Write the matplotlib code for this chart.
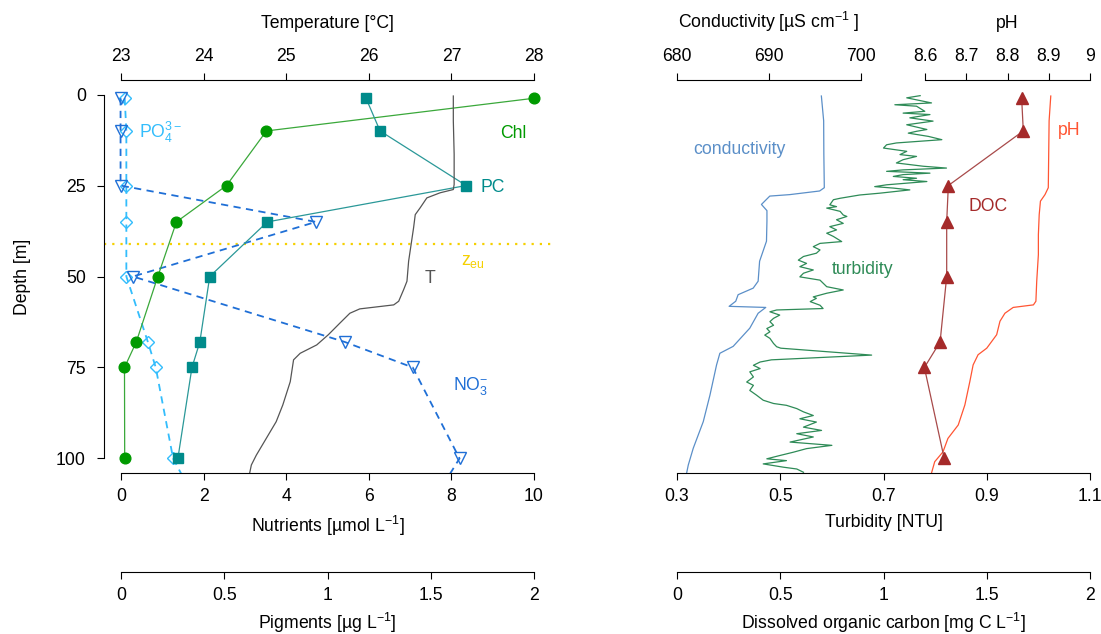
import matplotlib
matplotlib.use("Agg")
import matplotlib.pyplot as plt

plt.rcParams["font.family"] = ["Liberation Sans", "DejaVu Sans"]
plt.rcParams["font.size"] = 12.7
plt.rcParams["mathtext.fontset"] = "custom"
plt.rcParams["mathtext.rm"] = "Liberation Sans"
plt.rcParams["mathtext.it"] = "Liberation Sans:italic"

# discrete samples
sample_depth = [1, 10, 25, 35, 50, 68, 75, 100]
chl = [2.0, 0.705, 0.512, 0.27, 0.18, 0.076, 0.019, 0.02]          # ug/L
pc = [1.186, 1.254, 1.67, 0.709, 0.431, 0.383, 0.345, 0.277]       # ug/L
doc = [1.669, 1.677, 1.314, 1.306, 1.306, 1.274, 1.198, 1.294]    # mg C/L

nut_depth = [1, 10, 25, 35, 50, 68, 75, 100, 120]
po4 = [0.1, 0.14, 0.14, 0.14, 0.14, 0.66, 0.85, 1.27, 2.2]         # umol/L
no3 = [0.0, 0.0, 0.0, 4.72, 0.3, 5.42, 7.06, 8.19, 7.1]            # umol/L

zeu = 41

# CTD profiles
temp_depth = [0.4, 7.2, 16.4, 24.7, 26.1, 27.0, 28.4, 31.1, 33.0, 36.6, 41.2, 45.8, 51.3, 53.6,
              56.8, 57.8, 58.9, 60.1, 62.8, 66.0, 68.8, 71.1, 72.9, 78.9, 85.3, 89.9, 94.5, 99.1,
              101.8, 104.0]
temp = [27.02, 27.02, 27.03, 27.03, 27.02, 26.86, 26.70, 26.62, 26.56, 26.54, 26.51, 26.48, 26.46,
        26.42, 26.36, 26.30, 25.89, 25.77, 25.65, 25.51, 25.37, 25.17, 25.09, 25.05, 24.96, 24.88,
        24.76, 24.64, 24.58, 24.56]

cond_depth = [0.4, 7.2, 16.4, 25.6, 26.5, 27.5, 27.9, 30.2, 31.9, 34.8, 40.3, 45.8, 51.3, 53.2,
              55.0, 56.8, 58.2, 58.5, 60.1, 64.2, 69.2, 71.1, 74.3, 82.6, 89.9, 97.2, 101.8, 104.0]
cond = [695.73, 695.98, 696.00, 696.05, 695.54, 692.28, 690.11, 689.20, 689.80, 689.80, 689.75,
        689.00, 688.84, 688.30, 686.66, 686.40, 685.68, 689.67, 688.84, 687.93, 686.12, 684.67,
        684.31, 683.59, 682.86, 681.77, 681.23, 681.05]

turb_depth = [0.3, 0.9, 2.3, 2.8, 3.2, 4.6, 5.1, 5.5, 6.4, 7.3, 8.3, 9.6, 10.1, 10.6, 11.5, 12.4,
              12.9, 13.3, 13.8, 14.7, 15.2, 15.6, 16.5, 17.0, 17.9, 18.8, 19.7, 20.2, 20.7, 21.1,
              21.6, 22.0, 22.5, 23.0, 23.4, 23.9, 24.8, 25.3, 25.7, 26.2, 27.1, 27.6, 28.5, 28.9,
              30.3, 30.8, 31.2, 32.1, 33.1, 33.5, 34.4, 35.4, 36.3, 37.2, 38.1, 39.0, 40.4, 40.9,
              41.8, 42.7, 43.6, 44.5, 45.5, 46.4, 47.3, 48.2, 49.1, 50.1, 51.0, 52.8, 53.7, 54.6,
              55.6, 56.0, 56.9, 57.9, 58.8, 59.2, 59.7, 60.6, 61.5, 62.4, 63.4, 64.3, 65.2, 66.1,
              67.0, 68.4, 69.3, 69.7, 71.6, 72.9, 73.5, 74.4, 75.3, 76.2, 77.6, 79.0, 79.9, 81.3,
              82.6, 84.0, 84.9, 85.4, 86.3, 87.2, 88.2, 89.1, 90.0, 91.4, 92.3, 93.2, 94.1, 95.5,
              96.4, 97.3, 98.3, 99.2, 100.1, 100.6, 101.5, 102.4, 102.9, 103.8]
turb = [0.771, 0.745, 0.793, 0.722, 0.764, 0.780, 0.738, 0.790, 0.751, 0.796, 0.745, 0.784, 0.764,
        0.748, 0.787, 0.813, 0.764, 0.725, 0.706, 0.700, 0.725, 0.745, 0.732, 0.764, 0.738, 0.725,
        0.777, 0.822, 0.738, 0.706, 0.790, 0.738, 0.719, 0.764, 0.738, 0.784, 0.706, 0.683, 0.719,
        0.751, 0.693, 0.654, 0.616, 0.603, 0.596, 0.609, 0.590, 0.616, 0.622, 0.629, 0.609, 0.622,
        0.596, 0.609, 0.590, 0.603, 0.619, 0.577, 0.564, 0.577, 0.570, 0.545, 0.535, 0.551, 0.538,
        0.564, 0.545, 0.538, 0.577, 0.590, 0.622, 0.590, 0.564, 0.570, 0.558, 0.577, 0.583, 0.493,
        0.480, 0.499, 0.487, 0.480, 0.487, 0.474, 0.480, 0.470, 0.480, 0.487, 0.493, 0.501, 0.677,
        0.483, 0.461, 0.448, 0.461, 0.441, 0.448, 0.435, 0.448, 0.441, 0.454, 0.467, 0.487, 0.512,
        0.532, 0.545, 0.564, 0.538, 0.570, 0.545, 0.580, 0.532, 0.564, 0.519, 0.600, 0.551, 0.525,
        0.499, 0.474, 0.512, 0.467, 0.506, 0.532, 0.545]

ph_depth = [0.4, 7.2, 16.4, 25.6, 27.5, 29.3, 33.0, 38.5, 44.0, 51.3, 56.8, 57.8, 58.5, 60.1, 62.3,
            66.0, 69.7, 71.5, 74.3, 78.9, 85.3, 90.8, 94.5, 98.2, 100.9, 104.1]
ph = [8.905, 8.901, 8.900, 8.899, 8.891, 8.880, 8.877, 8.875, 8.875, 8.871, 8.869, 8.863, 8.814,
      8.794, 8.782, 8.774, 8.750, 8.729, 8.717, 8.709, 8.697, 8.681, 8.656, 8.644, 8.624, 8.616]

depth_ticks = [0, 25, 50, 75, 100]
nut_ticks = [0, 2, 4, 6, 8, 10]
temp_ticks = [23, 24, 25, 26, 27, 28]
pig_ticks = [0, 0.5, 1, 1.5, 2]
pig_labels = ["0", "0.5", "1", "1.5", "2"]
turb_ticks = [0.3, 0.5, 0.7, 0.9, 1.1]
cond_ticks = [680, 690, 700]
ph_ticks = [8.6, 8.7, 8.8, 8.9, 9.0]
ph_labels = ["8.6", "8.7", "8.8", "8.9", "9"]

c_chl, c_chl_line = "#009a00", "#3aa83a"
c_pc, c_pc_line = "#008b8b", "#2a9898"
c_po4 = "#33bdfc"
c_no3 = "#1f6fd6"
c_temp = "#555555"
c_zeu = "#f5d000"
c_cond = "#5b8fc8"
c_turb = "#2e8b57"
c_doc, c_doc_line = "#a52a2a", "#a84a4a"
c_ph = "#ff5533"

W, H = 1101, 634
fig = plt.figure(figsize=(W / 100, H / 100), dpi=100)


def frac(x0, x1, ytop, ybot):
    return [x0 / W, 1 - ybot / H, (x1 - x0) / W, (ybot - ytop) / H]


def axis_only(x0, x1, y, side, lim, ticks, labels, label, pad):
    h = 0.001
    if side == "bottom":
        r = [x0 / W, 1 - y / H, (x1 - x0) / W, h]
    else:
        r = [x0 / W, 1 - y / H - h, (x1 - x0) / W, h]
    a = fig.add_axes(r)
    a.patch.set_visible(False)
    for s in a.spines.values():
        s.set_visible(False)
    a.spines[side].set_visible(True)
    a.spines[side].set_linewidth(0.8)
    a.set_xlim(lim)
    a.set_yticks([])
    a.xaxis.set_ticks_position(side)
    a.xaxis.set_label_position(side)
    a.set_xticks(ticks, labels)
    a.tick_params(axis="x", direction="out", length=5, width=0.8, pad=6)
    a.set_xlabel(label, labelpad=pad)
    return a


# ---- left panel ----
ax1 = fig.add_axes(frac(104, 551, 80, 473))
ax1.patch.set_visible(False)
ax1.set_xlim(-0.4, 10.4)
ax1.set_ylim(104, -4)
for s in ["top", "right", "bottom"]:
    ax1.spines[s].set_visible(False)
ax1.spines["left"].set_bounds(0, 100)
ax1.spines["left"].set_linewidth(0.8)
ax1.set_xticks([])
ax1.set_yticks(depth_ticks, [str(d) for d in depth_ticks])
ax1.tick_params(axis="y", direction="out", length=5, width=0.8, pad=8)
ax1.set_ylabel("Depth [m]", labelpad=18)

ax_pig = ax1.twiny()
ax_pig.set_xlim(-0.08, 2.08)
ax_pig.axis("off")
ax_tmp = ax1.twiny()
ax_tmp.set_xlim(22.8, 28.2)
ax_tmp.axis("off")

ax_tmp.plot(temp, temp_depth, color=c_temp, lw=0.9)
ax1.axhline(zeu, color=c_zeu, lw=1.6, ls=(0, (1, 2.7)))
ax1.plot(po4, nut_depth, color=c_po4, lw=1.3, ls=(0, (4, 3)), marker="D", ms=6.5,
         mfc="none", mec=c_po4, mew=1.0)
ax1.plot(no3, nut_depth, color=c_no3, lw=1.3, ls=(0, (4, 3)), marker="v", ms=8.5,
         mfc="none", mec=c_no3, mew=1.0)
ax_pig.plot(chl, sample_depth, color=c_chl_line, lw=0.9, marker="o", ms=7.7,
            mfc=c_chl, mec=c_chl)
ax_pig.plot(pc, sample_depth, color=c_pc_line, lw=0.9, marker="s", ms=7,
            mfc=c_pc, mec=c_pc)

ax1.text(9.18, 11.9, "Chl", color=c_chl, va="baseline")
ax1.text(8.69, 26.9, "PC", color=c_pc, va="baseline")
ax1.text(0.44, 11.9, r"PO$\mathregular{_4^{3-}}$", color=c_po4, va="baseline")
ax1.text(8.04, 81.3, r"NO$\mathregular{_3^{-}}$", color=c_no3, va="baseline")
ax1.text(8.23, 46.8, r"z$\mathregular{_{eu}}$", color=c_zeu, va="baseline")
ax1.text(7.48, 51.8, "T", color=c_temp, va="baseline", ha="center")

axis_only(121, 534, 473, "bottom", (0, 10), nut_ticks, [str(t) for t in nut_ticks],
          r"Nutrients [µmol L$\mathregular{^{-1}}$]", 6.5)
axis_only(121, 534, 80, "top", (23, 28), temp_ticks, [str(t) for t in temp_ticks],
          "Temperature [°C]", 14)
axis_only(121, 534, 572, "bottom", (0, 2), pig_ticks, pig_labels,
          r"Pigments [µg L$\mathregular{^{-1}}$]", 5)

# ---- right panel ----
ax2 = fig.add_axes(frac(677, 1090, 80, 473))
ax2.set_xlim(0.3, 1.1)
ax2.set_ylim(104, -4)
ax2.axis("off")
ax_cond = ax2.twiny()
ax_cond.set_xlim(680, 725)
ax_cond.axis("off")
ax_ph = ax2.twiny()
ax_ph.set_xlim(8.0, 9.0)
ax_ph.axis("off")
ax_doc = ax2.twiny()
ax_doc.set_xlim(0, 2)
ax_doc.axis("off")

ax_cond.plot(cond, cond_depth, color=c_cond, lw=0.9)
ax2.plot(turb, turb_depth, color=c_turb, lw=0.9)
ax_ph.plot(ph, ph_depth, color=c_ph, lw=0.9)
ax_doc.plot(doc, sample_depth, color=c_doc_line, lw=0.9, marker="^", ms=9,
            mfc=c_doc, mec=c_doc)

ax2.text(0.331, 16.3, "conductivity", color=c_cond, va="baseline")
ax2.text(0.600, 49.4, "turbidity", color=c_turb, va="baseline")
ax2.text(0.864, 32.0, "DOC", color=c_doc, va="baseline")
ax2.text(1.038, 11.2, "pH", color=c_ph, va="baseline")

axis_only(677, 1090, 473, "bottom", (0.3, 1.1), turb_ticks, [str(t) for t in turb_ticks],
          "Turbidity [NTU]", 6.5)
axis_only(677, 1090, 572, "bottom", (0, 2), pig_ticks, pig_labels,
          r"Dissolved organic carbon [mg C L$\mathregular{^{-1}}$]", 5)
axis_only(677, 861, 80, "top", (680, 700), cond_ticks, [str(t) for t in cond_ticks],
          r"Conductivity [µS cm$\mathregular{^{-1}}$ ]", 14)
axis_only(925, 1090, 80, "top", (8.6, 9.0), ph_ticks, ph_labels, "pH", 14)

fig.savefig("out.png", dpi=100)
